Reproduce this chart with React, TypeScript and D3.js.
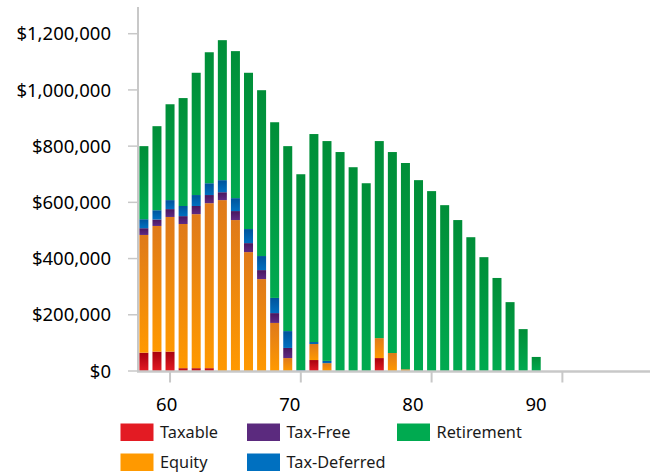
import React from "react";
import * as d3 from "d3";

const ages = d3.range(58, 89);
const taxable = [65, 69, 69, 10, 10, 10, 0, 0, 0, 0, 0, 0, 0, 39, 0, 0, 0, 0, 46, 0, 0, 0, 0, 0, 0, 0, 0, 0, 0, 0, 0];
const equity = [419, 447, 479, 513, 548, 587, 608, 537, 423, 327, 171, 46, 0, 57, 28, 0, 0, 0, 71, 64, 6, 0, 0, 0, 0, 0, 0, 0, 0, 0, 0];
const taxFree = [24, 23, 28, 28, 29, 29, 28, 32, 32, 32, 35, 36, 0, 0, 0, 0, 0, 0, 0, 0, 0, 0, 0, 0, 0, 0, 0, 0, 0, 0, 0];
const taxDeferred = [32, 33, 32, 36, 39, 42, 43, 46, 50, 50, 54, 60, 3, 7, 8, 0, 0, 0, 0, 0, 0, 0, 0, 0, 0, 0, 0, 0, 0, 0, 0];
const retirement = [260, 299, 341, 384, 435, 466, 498, 523, 556, 590, 625, 658, 697, 740, 782, 779, 725, 668, 701, 715, 734, 679, 640, 590, 537, 476, 405, 331, 245, 149, 50];

const seriesKeys = ["Taxable", "Equity", "Tax-Free", "Tax-Deferred", "Retirement"];
const seriesValues = [taxable, equity, taxFree, taxDeferred, retirement];
const yTicks = [0, 200000, 400000, 600000, 800000, 1000000, 1200000];
const xTicks = [60, 70, 80, 90];

const colors: Record<string, [string, string, string]> = {
  Taxable: ["#a8000e", "#e31b23", "#e31b23"],
  Equity: ["#df7a1a", "#ff9900", "#ff9900"],
  "Tax-Free": ["#4a165e", "#5e2a84", "#5b2a7e"],
  "Tax-Deferred": ["#00539b", "#0070c0", "#0070c0"],
  Retirement: ["#008e38", "#00aa50", "#00aa50"],
};

const legendItems = [
  { key: "Taxable", col: 0, row: 0 },
  { key: "Tax-Free", col: 1, row: 0 },
  { key: "Retirement", col: 2, row: 0 },
  { key: "Equity", col: 0, row: 1 },
  { key: "Tax-Deferred", col: 1, row: 1 },
];

const FONT = "'Noto Sans', sans-serif";

export default function App() {
  const W = 654, H = 474;
  const x = d3.scaleLinear().domain([57.55, 96.7]).range([138, 650]);
  const xLabel = d3.scaleLinear().domain([60, 90]).range([166.7, 536]);
  const y = d3.scaleLinear().domain([0, 1295000]).range([371, 7]);
  const barW = 9;

  const rows = ages.map((age, i) => {
    const r: any = { age };
    seriesKeys.forEach((k, j) => (r[k] = seriesValues[j][i] * 1000));
    return r;
  });
  const stacked = d3.stack().keys(seriesKeys)(rows);
  const fmt = (v: number) => "$" + d3.format(",")(v);
  const legendX = [120.5, 247, 397];
  const legendY = [423.5, 453.5];

  return (
    <svg width={W} height={H} style={{ position: "absolute", left: 0, top: 0 }}>
      <defs>
        {seriesKeys.map((k, i) => (
          <linearGradient key={k} id={"g" + i} x1="0" y1="0" x2="0" y2="1">
            <stop offset="0" stopColor={colors[k][0]} />
            <stop offset="1" stopColor={colors[k][1]} />
          </linearGradient>
        ))}
      </defs>
      <rect x={0} y={0} width={W} height={H} fill="#fff" />
      {stacked.map((s, si) =>
        s.map((d, i) => {
          const h = y(d[0]) - y(d[1]);
          if (h <= 0) return null;
          return (
            <rect
              key={si + "-" + i}
              x={x(ages[i]) - barW / 2}
              y={y(d[1])}
              width={barW}
              height={h}
              fill={`url(#g${si})`}
            />
          );
        })
      )}
      {/* y axis */}
      <line x1={138} x2={138} y1={y.range()[1]} y2={372} stroke="#c8c8c8" strokeWidth={2} />
      {yTicks.map((t) => (
        <g key={t}>
          <line x1={128} x2={138} y1={y(t)} y2={y(t)} stroke="#c8c8c8" strokeWidth={1.5} />
          <text x={111} y={y(t)} dy="0.36em" textAnchor="end" fontFamily={FONT} fontSize={18.5} fill="#000">
            {fmt(t)}
          </text>
        </g>
      ))}
      {/* x axis */}
      <line x1={137} x2={x.range()[1]} y1={371.5} y2={371.5} stroke="#c8c8c8" strokeWidth={2.5} />
      {xTicks.map((t) => (
        <g key={t}>
          <line x1={x(t)} x2={x(t)} y1={371} y2={382.5} stroke="#c8c8c8" strokeWidth={2} />
          <text x={xLabel(t)} y={410.5} textAnchor="middle" fontFamily={FONT} fontSize={18.5} fill="#000">
            {t}
          </text>
        </g>
      ))}
      {/* legend */}
      {legendItems.map((it) => (
        <g key={it.key}>
          <rect x={legendX[it.col]} y={legendY[it.row]} width={33} height={17.5} fill={colors[it.key][2]} />
          <text
            x={legendX[it.col] + 39.5}
            y={legendY[it.row] + 14}
            fontFamily={FONT}
            fontSize={16.3}
            fill="#1a1a1a"
          >
            {it.key}
          </text>
        </g>
      ))}
    </svg>
  );
}
